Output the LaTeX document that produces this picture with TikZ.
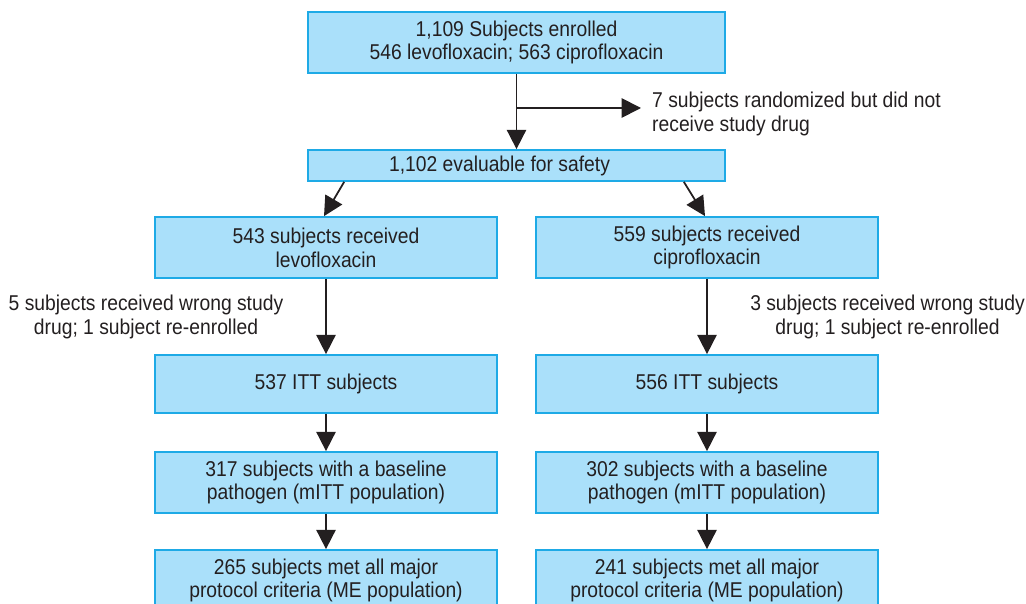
\documentclass[tikz,border=0pt]{standalone}
\usepackage{fontspec}
\setmainfont{Liberation Sans}[FakeStretch=0.9]
\usetikzlibrary{arrows.meta}
\definecolor{boxfill}{RGB}{170,224,250}
\definecolor{boxline}{RGB}{30,170,230}
\definecolor{inkgray}{RGB}{35,31,32}

\begin{document}
\begin{tikzpicture}[x=0.02cm,y=-0.02cm,
	box/.style={draw=boxline,fill=boxfill,line width=1pt,align=center,inner sep=0pt,
		text=inkgray,font=\fontsize{12.2}{13.6}\selectfont},
	colbox/.style={box,minimum width=6.84cm,minimum height=1.22cm},
	arr/.style={draw=inkgray,line width=1pt,-{Triangle[width=11pt,length=11pt]}},
	note/.style={align=center,text=inkgray,font=\fontsize{12.2}{13.6}\selectfont}]
	\useasboundingbox (0,0) rectangle (1026,604);
	\clip (0,0) rectangle (1026,604);

	\node[box,minimum width=8.34cm,minimum height=1.22cm] (enr) at (516.5,42.5) {1,109 Subjects enrolled\\546 levofloxacin; 563 ciprofloxacin};
	\node[box,minimum width=8.34cm,minimum height=0.62cm] (saf) at (516.5,165.5) {\hspace*{-0.68cm}1,102 evaluable for safety};
	\node[note,align=left,anchor=west] (nrnd) at (646,114) {7 subjects randomized but did not\\receive study drug};

	\node[colbox] (lev) at (326,247.5) {543 subjects received\\levofloxacin};
	\node[colbox,minimum height=1.16cm] (ittl) at (326,384) {537 ITT subjects};
	\node[colbox] (mittl) at (326,482.5) {317 subjects with a baseline\\pathogen (mITT population)};
	\node[colbox] (mel) at (326,580.5) {265 subjects met all major\\protocol criteria (ME population)};

	\node[colbox] (cip) at (707,247.5) {559 subjects received\\ciprofloxacin};
	\node[colbox,minimum height=1.16cm] (ittr) at (707,384) {556 ITT subjects};
	\node[colbox] (mittr) at (707,482.5) {302 subjects with a baseline\\pathogen (mITT population)};
	\node[colbox] (mer) at (707,580.5) {241 subjects met all major\\protocol criteria (ME population)};

	\node[note] (wrl) at (146,317) {5 subjects received wrong study\\drug; 1 subject re-enrolled};
	\node[note] (wrr) at (887.5,317) {3 subjects received wrong study\\drug; 1 subject re-enrolled};

	\coordinate (br) at (517,108);
	\draw[arr] (enr) -- (saf);
	\draw[arr] (br) -- ([xshift=-0.1cm]br -| nrnd.west);
	\draw[arr] ([xshift=0.74cm]saf.south west) -- ([xshift=-0.04cm]lev.north);
	\draw[arr] ([xshift=-0.84cm]saf.south east) -- ([xshift=-0.04cm]cip.north);
	\draw[arr] (lev) -- (ittl);
	\draw[arr] (ittl) -- (mittl);
	\draw[arr] (mittl) -- (mel);
	\draw[arr] (cip) -- (ittr);
	\draw[arr] (ittr) -- (mittr);
	\draw[arr] (mittr) -- (mer);
\end{tikzpicture}
\end{document}
